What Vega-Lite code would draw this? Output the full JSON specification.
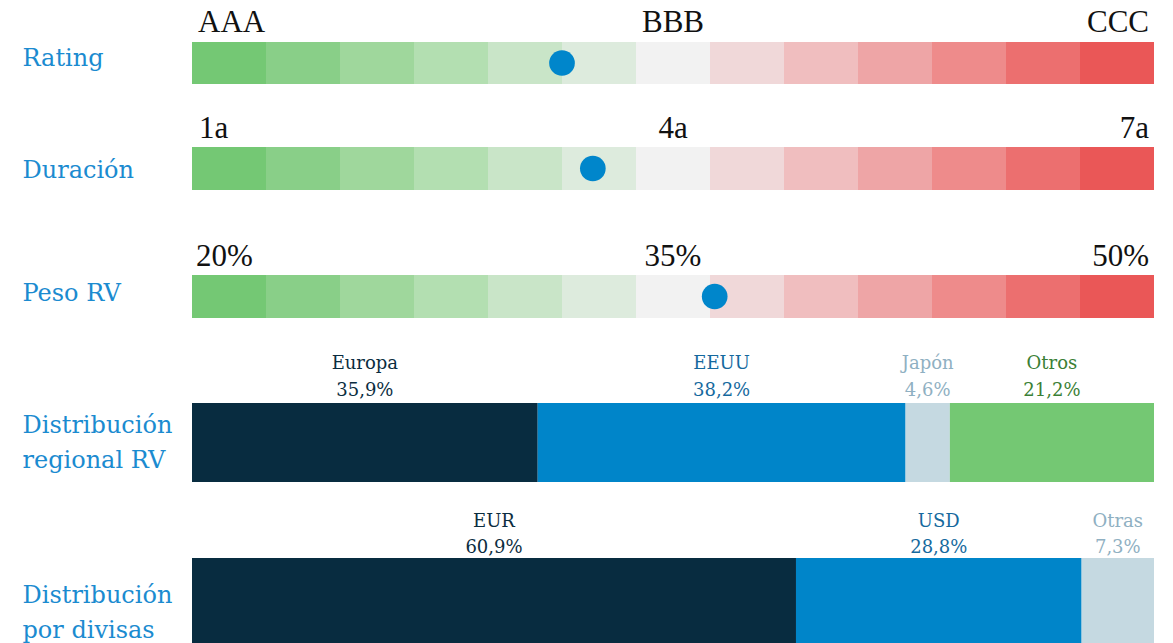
{
  "$schema": "https://vega.github.io/schema/vega-lite/v6.json",
  "background": "white",
  "padding": {"left": 22, "top": 7, "right": 19, "bottom": 0},
  "config": {
    "view": {"stroke": null},
    "scale": {"bandPaddingInner": 0, "bandPaddingOuter": 0, "barBandPaddingInner": 0, "barBandPaddingOuter": 0},
    "locale": {"number": {"decimal": ",", "thousands": ".", "grouping": [3], "currency": ["", " €"]}},
    "axisY": {"title": null, "domain": false, "ticks": false, "tickSize": 0, "grid": false, "labelPadding": 170, "labelAlign": "left", "labelBaseline": "middle", "labelFont": "DejaVu Serif", "labelFontSize": 24, "labelColor": "#1b8bd0", "labelLineHeight": 35, "labelLimit": 400, "labelExpr": "split(datum.label, '\\n')"}
  },
  "datasets": {
    "segmentos": [{"seg": 1}, {"seg": 2}, {"seg": 3}, {"seg": 4}, {"seg": 5}, {"seg": 6}, {"seg": 7}, {"seg": 8}, {"seg": 9}, {"seg": 10}, {"seg": 11}, {"seg": 12}, {"seg": 13}],
    "rating_marcas": [{"pos": 0, "txt": "AAA"}, {"pos": 6.5, "txt": "BBB"}, {"pos": 13, "txt": "CCC"}],
    "rating_valor": [{"pos": 5.0}],
    "duracion_marcas": [{"pos": 1, "txt": "1a"}, {"pos": 4, "txt": "4a"}, {"pos": 7, "txt": "7a"}],
    "duracion_valor": [{"pos": 3.5}],
    "peso_marcas": [{"pos": 20, "txt": "20%"}, {"pos": 35, "txt": "35%"}, {"pos": 50, "txt": "50%"}],
    "peso_valor": [{"pos": 36.3}],
    "regional": [
      {"region": "Europa", "share": 0.359, "orden": 1},
      {"region": "EEUU", "share": 0.382, "orden": 2},
      {"region": "Japón", "share": 0.046, "orden": 3},
      {"region": "Otros", "share": 0.212, "orden": 4}
    ],
    "divisas": [
      {"region": "EUR", "share": 0.609, "orden": 1},
      {"region": "USD", "share": 0.288, "orden": 2},
      {"region": "Otras", "share": 0.073, "orden": 3}
    ]
  },
  "bounds": "flush",
  "spacing": 63,
  "vconcat": [
    {
      "width": 962, "height": 42,
      "layer": [
        {
          "data": {"name": "segmentos"},
          "mark": {"type": "bar"},
          "encoding": {
            "x": {"field": "seg", "type": "ordinal", "axis": null},
            "y": {"datum": "Rating", "type": "nominal", "axis": {"labelOffset": -4}},
            "color": {"field": "seg", "type": "ordinal", "legend": null, "scale": {"range": ["#74c874", "#89cf88", "#9fd79c", "#b3dfb1", "#c9e5c8", "#ddebdd", "#f2f2f2", "#f0d8d9", "#f0bebf", "#eea5a6", "#ee8b8b", "#ec6f6f", "#ea5757"]}}
          }
        },
        {
          "data": {"name": "rating_marcas"},
          "mark": {"type": "text", "font": "Liberation Serif", "fontSize": 31, "color": "#111111", "baseline": "alphabetic", "dy": -31,
                   "align": {"expr": "datum.pos == 0 ? 'left' : datum.pos == 13 ? 'right' : 'center'"},
                   "dx": {"expr": "datum.pos == 0 ? 6 : datum.pos == 13 ? -5 : 0"}},
          "encoding": {
            "x": {"field": "pos", "type": "quantitative", "axis": null, "scale": {"domain": [0, 13], "nice": false, "zero": false}},
            "y": {"datum": "Rating", "type": "nominal", "axis": {"labelOffset": -4}},
            "text": {"field": "txt"}
          }
        },
        {
          "data": {"name": "rating_valor"},
          "mark": {"type": "circle", "size": 660, "color": "#0086cb", "opacity": 1, "dy": -2},
          "encoding": {
            "x": {"field": "pos", "type": "quantitative", "axis": null, "scale": {"domain": [0, 13], "nice": false, "zero": false}},
            "y": {"datum": "Rating", "type": "nominal", "axis": {"labelOffset": -4}}
          }
        }
      ],
      "resolve": {"scale": {"x": "independent"}}
    },
    {
      "bounds": "flush",
      "spacing": 85,
      "vconcat": [
        {
          "width": 962, "height": 43,
          "layer": [
            {
              "data": {"name": "segmentos"},
              "mark": {"type": "bar"},
              "encoding": {
                "x": {"field": "seg", "type": "ordinal", "axis": null},
                "y": {"datum": "Duración", "type": "nominal", "axis": {"labelOffset": 2}},
                "color": {"field": "seg", "type": "ordinal", "legend": null, "scale": {"range": ["#74c874", "#89cf88", "#9fd79c", "#b3dfb1", "#c9e5c8", "#ddebdd", "#f2f2f2", "#f0d8d9", "#f0bebf", "#eea5a6", "#ee8b8b", "#ec6f6f", "#ea5757"]}}
              }
            },
            {
              "data": {"name": "duracion_marcas"},
              "mark": {"type": "text", "font": "Liberation Serif", "fontSize": 31, "color": "#111111", "baseline": "alphabetic", "dy": -31,
                       "align": {"expr": "datum.pos == 1 ? 'left' : datum.pos == 7 ? 'right' : 'center'"},
                       "dx": {"expr": "datum.pos == 1 ? 7 : datum.pos == 7 ? -5 : 0"}},
              "encoding": {
                "x": {"field": "pos", "type": "quantitative", "axis": null, "scale": {"domain": [1, 7], "nice": false, "zero": false}},
                "y": {"datum": "Duración", "type": "nominal", "axis": {"labelOffset": 2}},
                "text": {"field": "txt"}
              }
            },
            {
              "data": {"name": "duracion_valor"},
              "mark": {"type": "circle", "size": 660, "color": "#0086cb", "opacity": 1},
              "encoding": {
                "x": {"field": "pos", "type": "quantitative", "axis": null, "scale": {"domain": [1, 7], "nice": false, "zero": false}},
                "y": {"datum": "Duración", "type": "nominal", "axis": {"labelOffset": 2}}
              }
            }
          ],
          "resolve": {"scale": {"x": "independent"}}
        },
        {
          "width": 962, "height": 43,
          "layer": [
            {
              "data": {"name": "segmentos"},
              "mark": {"type": "bar"},
              "encoding": {
                "x": {"field": "seg", "type": "ordinal", "axis": null},
                "y": {"datum": "Peso RV", "type": "nominal", "axis": {"labelOffset": -3}},
                "color": {"field": "seg", "type": "ordinal", "legend": null, "scale": {"range": ["#74c874", "#89cf88", "#9fd79c", "#b3dfb1", "#c9e5c8", "#ddebdd", "#f2f2f2", "#f0d8d9", "#f0bebf", "#eea5a6", "#ee8b8b", "#ec6f6f", "#ea5757"]}}
              }
            },
            {
              "data": {"name": "peso_marcas"},
              "mark": {"type": "text", "font": "Liberation Serif", "fontSize": 31, "color": "#111111", "baseline": "alphabetic", "dy": -31,
                       "align": {"expr": "datum.pos == 20 ? 'left' : datum.pos == 50 ? 'right' : 'center'"},
                       "dx": {"expr": "datum.pos == 20 ? 4 : datum.pos == 50 ? -5 : 0"}},
              "encoding": {
                "x": {"field": "pos", "type": "quantitative", "axis": null, "scale": {"domain": [20, 50], "nice": false, "zero": false}},
                "y": {"datum": "Peso RV", "type": "nominal", "axis": {"labelOffset": -3}},
                "text": {"field": "txt"}
              }
            },
            {
              "data": {"name": "peso_valor"},
              "mark": {"type": "circle", "size": 660, "color": "#0086cb", "opacity": 1},
              "encoding": {
                "x": {"field": "pos", "type": "quantitative", "axis": null, "scale": {"domain": [20, 50], "nice": false, "zero": false}},
                "y": {"datum": "Peso RV", "type": "nominal", "axis": {"labelOffset": -3}}
              }
            }
          ],
          "resolve": {"scale": {"x": "independent"}}
        },
        {
          "bounds": "flush",
          "spacing": 76,
          "vconcat": [
            {
              "width": 962, "height": 79,
              "data": {"name": "regional"},
              "transform": [
                {"stack": "share", "groupby": [], "sort": [{"field": "orden", "order": "ascending"}], "as": ["x0", "x1"], "offset": "normalize"},
                {"calculate": "(datum.x0 + datum.x1) / 2", "as": "xm"}
              ],
              "layer": [
                {
                  "mark": {"type": "bar"},
                  "encoding": {
                    "x": {"field": "x0", "type": "quantitative", "axis": null, "scale": {"domain": [0, 1], "nice": false}},
                    "x2": {"field": "x1"},
                    "y": {"datum": "Distribución\nregional RV", "type": "nominal", "axis": {"labelOffset": -17}},
                    "color": {"field": "region", "type": "nominal", "legend": null, "scale": {"domain": ["Europa", "EEUU", "Japón", "Otros"], "range": ["#082c40", "#0085c9", "#c5d9e1", "#74c873"]}}
                  }
                },
                {
                  "mark": {"type": "text", "font": "DejaVu Serif", "fontSize": 18, "baseline": "alphabetic", "align": "center", "dy": -74},
                  "encoding": {
                    "x": {"field": "xm", "type": "quantitative", "axis": null, "scale": {"domain": [0, 1], "nice": false}},
                    "y": {"datum": "Distribución\nregional RV", "type": "nominal", "axis": {"labelOffset": -17}},
                    "text": {"field": "region"},
                    "color": {"field": "region", "type": "nominal", "legend": null, "scale": {"domain": ["Europa", "EEUU", "Japón", "Otros"], "range": ["#0b2d40", "#15699e", "#8fb0c2", "#3b7f36"]}}
                  }
                },
                {
                  "mark": {"type": "text", "font": "DejaVu Serif", "fontSize": 18, "baseline": "alphabetic", "align": "center", "dy": -47},
                  "encoding": {
                    "x": {"field": "xm", "type": "quantitative", "axis": null, "scale": {"domain": [0, 1], "nice": false}},
                    "y": {"datum": "Distribución\nregional RV", "type": "nominal", "axis": {"labelOffset": -17}},
                    "text": {"field": "share", "type": "quantitative", "format": ".1%"},
                    "color": {"field": "region", "type": "nominal", "legend": null, "scale": {"domain": ["Europa", "EEUU", "Japón", "Otros"], "range": ["#0b2d40", "#15699e", "#8fb0c2", "#3b7f36"]}}
                  }
                }
              ],
              "resolve": {"scale": {"color": "independent"}}
            },
            {
              "width": 962, "height": 85,
              "data": {"name": "divisas"},
              "transform": [
                {"stack": "share", "groupby": [], "sort": [{"field": "orden", "order": "ascending"}], "as": ["x0", "x1"], "offset": "normalize"},
                {"calculate": "(datum.x0 + datum.x1) / 2", "as": "xm"}
              ],
              "layer": [
                {
                  "mark": {"type": "bar"},
                  "encoding": {
                    "x": {"field": "x0", "type": "quantitative", "axis": null, "scale": {"domain": [0, 1], "nice": false}},
                    "x2": {"field": "x1"},
                    "y": {"datum": "Distribución\npor divisas", "type": "nominal", "axis": {"labelOffset": -5}},
                    "color": {"field": "region", "type": "nominal", "legend": null, "scale": {"domain": ["EUR", "USD", "Otras"], "range": ["#082c40", "#0085c9", "#c5d9e1"]}}
                  }
                },
                {
                  "mark": {"type": "text", "font": "DejaVu Serif", "fontSize": 18, "baseline": "alphabetic", "align": "center", "dy": -74},
                  "encoding": {
                    "x": {"field": "xm", "type": "quantitative", "axis": null, "scale": {"domain": [0, 1], "nice": false}},
                    "y": {"datum": "Distribución\npor divisas", "type": "nominal", "axis": {"labelOffset": -5}},
                    "text": {"field": "region"},
                    "color": {"field": "region", "type": "nominal", "legend": null, "scale": {"domain": ["EUR", "USD", "Otras"], "range": ["#0b2d40", "#15699e", "#8fb0c2"]}}
                  }
                },
                {
                  "mark": {"type": "text", "font": "DejaVu Serif", "fontSize": 18, "baseline": "alphabetic", "align": "center", "dy": -48},
                  "encoding": {
                    "x": {"field": "xm", "type": "quantitative", "axis": null, "scale": {"domain": [0, 1], "nice": false}},
                    "y": {"datum": "Distribución\npor divisas", "type": "nominal", "axis": {"labelOffset": -5}},
                    "text": {"field": "share", "type": "quantitative", "format": ".1%"},
                    "color": {"field": "region", "type": "nominal", "legend": null, "scale": {"domain": ["EUR", "USD", "Otras"], "range": ["#0b2d40", "#15699e", "#8fb0c2"]}}
                  }
                }
              ],
              "resolve": {"scale": {"color": "independent"}}
            }
          ]
        }
      ]
    }
  ]
}
